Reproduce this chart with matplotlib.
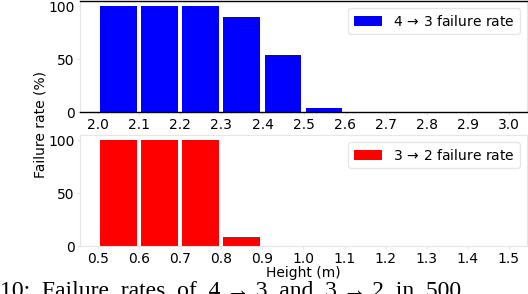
import matplotlib
matplotlib.use("Agg")
import matplotlib.pyplot as plt
import numpy as np

# Data
bins_43 = [2.0, 2.1, 2.2, 2.3, 2.4, 2.5, 2.6, 2.7, 2.8, 2.9]
rates_43 = [100, 100, 100, 90, 54, 4, 0, 0, 0, 0]
ticks_43 = [2.0, 2.1, 2.2, 2.3, 2.4, 2.5, 2.6, 2.7, 2.8, 2.9, 3.0]

bins_32 = [0.5, 0.6, 0.7, 0.8, 0.9, 1.0, 1.1, 1.2, 1.3, 1.4]
rates_32 = [100, 100, 100, 8.6, 0, 0, 0, 0, 0, 0]
ticks_32 = [0.5, 0.6, 0.7, 0.8, 0.9, 1.0, 1.1, 1.2, 1.3, 1.4, 1.5]

yticks = [0, 50, 100]
label_43 = "4$\\,\\rightarrow\\,$3 failure rate"
label_32 = "3$\\,\\rightarrow\\,$2 failure rate"
caption = "10:  Failure  rates  of  4 \u2192 3  and  3 \u2192 2  in  500"

plt.rcParams['font.family'] = ['DejaVu Sans']
plt.rcParams['mathtext.fontset'] = 'dejavusans'
fig = plt.figure(figsize=(5.28, 2.94), dpi=100)

L = 80 / 528
W = (527 - 80) / 528
H = 111 / 294
ax1 = fig.add_axes([L, 1 - 112 / 294, W, H])
ax2 = fig.add_axes([L, 1 - 246 / 294, W, H])

light = '#e6e6e6'

def style(ax, bins, rates, ticks, color, label, black_tb):
    centers = np.array(bins) + 0.05
    ax.bar(centers, rates, width=0.09, color=color, label=label)
    ax.set_xticks(ticks)
    ax.set_xticklabels([f"{t:.1f}" for t in ticks])
    ax.set_yticks(yticks)
    ax.tick_params(axis='both', labelsize=10, length=2.5, color=light, pad=1.5)
    for s in ax.spines.values():
        s.set_color(light)
        s.set_linewidth(0.8)
    if black_tb:
        for k in ('top', 'bottom'):
            ax.spines[k].set_color('black')
            ax.spines[k].set_linewidth(1.0)
    ax.legend(loc='upper right', fontsize=10, frameon=True, edgecolor=light,
              framealpha=1, borderaxespad=0.5)

style(ax1, bins_43, rates_43, ticks_43, '#0000ff', label_43, True)
style(ax2, bins_32, rates_32, ticks_32, '#ff0000', label_32, False)

ax2.set_xlabel("Height (m)", fontsize=10, labelpad=0)
fig.text(41 / 528, 1 - 124 / 294, "Failure rate (%)", rotation=90,
         ha='center', va='center', fontsize=10)

fig.text(0.0, 1 - 281 / 294, caption, ha='left', va='top',
         fontsize=17, family=['Liberation Serif', 'DejaVu Serif'])

fig.savefig("out.png", dpi=100)
